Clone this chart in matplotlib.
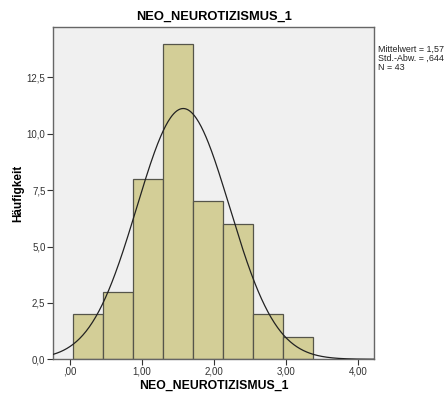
import numpy as np
import matplotlib

matplotlib.use("Agg")
import matplotlib.pyplot as plt

plt.rcParams["font.family"] = ["Liberation Sans", "DejaVu Sans"]

# histogram values
counts = [2, 3, 8, 14, 7, 6, 2, 1]
bin_start = 0.037
bin_width = 0.4175
mean = 1.57
sd = 0.644
n = 43
x_ticks = [0, 1, 2, 3, 4]
x_labels = [",00", "1,00", "2,00", "3,00", "4,00"]
y_ticks = [0, 2.5, 5, 7.5, 10, 12.5]
y_labels = ["0,0", "2,5", "5,0", "7,5", "10,0", "12,5"]

fig = plt.figure(figsize=(4.46, 3.99), dpi=100)
ax = fig.add_axes([0.119, 0.0995, 0.72, 0.8325])
ax.set_facecolor("#f0f0f0")

lefts = bin_start + bin_width * np.arange(len(counts))
ax.bar(lefts, counts, width=bin_width, align="edge", color="#d3ce97",
       edgecolor="#55554a", linewidth=0.9, zorder=2)

xlim = (-0.236, 4.22)
xs = np.linspace(xlim[0], xlim[1], 400)
ys = n * bin_width / (sd * np.sqrt(2 * np.pi)) * np.exp(-0.5 * ((xs - mean) / sd) ** 2)
ax.plot(xs, ys, color="#222222", linewidth=0.9, zorder=3)

ax.set_xlim(*xlim)
ax.set_ylim(0, 14.73)
ax.set_xticks(x_ticks)
ax.set_xticklabels(x_labels)
ax.set_yticks(y_ticks)
ax.set_yticklabels(y_labels)
ax.tick_params(labelsize=7, colors="#333333", length=4, width=0.8,
               direction="out", pad=1.5)
for side in ("top", "right", "left", "bottom"):
    ax.spines[side].set_color("#666666")
    ax.spines[side].set_linewidth(1.0)

ax.set_xlabel("NEO_NEUROTIZISMUS_1", fontsize=8.8, fontweight="bold")
ax.xaxis.set_label_coords(0.5, -0.08)
ax.xaxis.label.set_va("center")
ax.set_ylabel("Häufigkeit", fontsize=8.5, fontweight="bold")
ax.yaxis.set_label_coords(-0.107, 0.5)
ax.yaxis.label.set_va("center")
ax.set_title("NEO_NEUROTIZISMUS_1", fontsize=9.3, fontweight="bold", pad=5)

fig.text(0.848, 0.888, "Mittelwert = 1,57\nStd.-Abw. = ,644\nN = 43",
         fontsize=6.4, va="top", ha="left", linespacing=1.0, color="#222222")

fig.savefig("out.png", dpi=100)
